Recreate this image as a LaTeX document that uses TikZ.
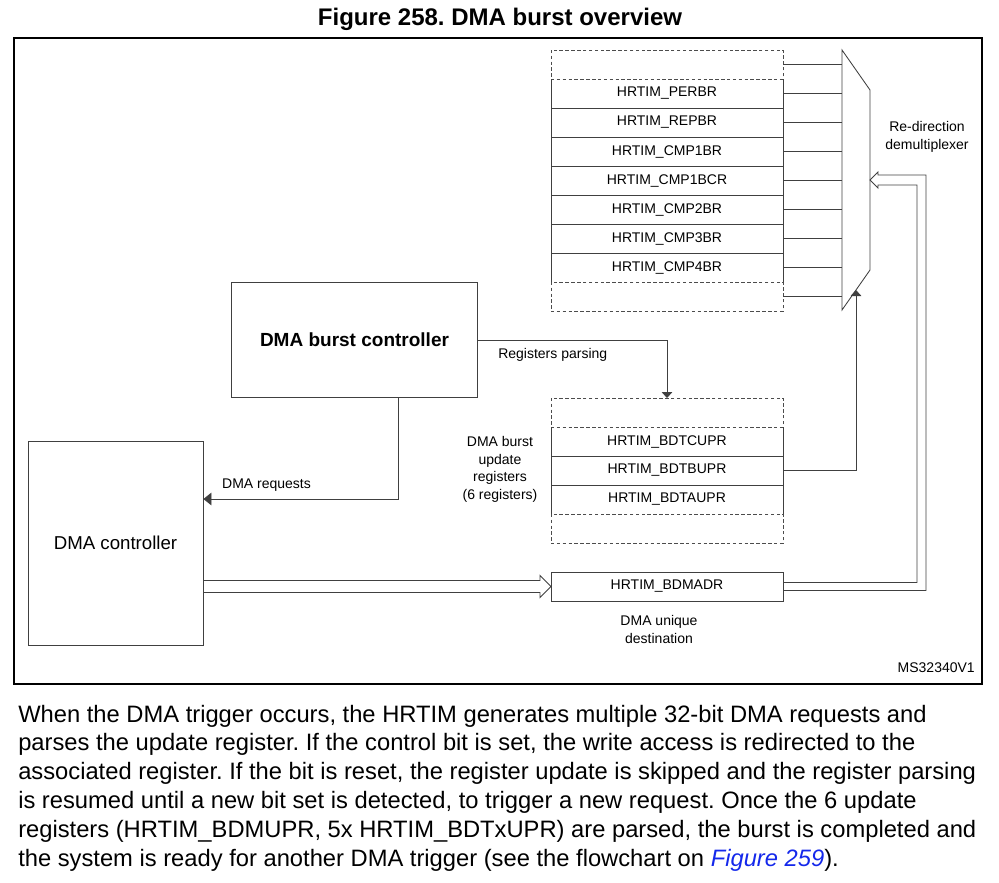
\documentclass[tikz,border=0pt]{standalone}
\usepackage{fontspec}
\setmainfont{Liberation Sans}
\usetikzlibrary{arrows.meta,calc,positioning}
\definecolor{linkblue}{RGB}{20,40,235}
\frenchspacing

\tikzset{
  conn/.style={draw=black!75, line width=0.65pt},
  regbox/.style={minimum width=174pt, minimum height=21.75pt, inner sep=0pt, outer sep=0pt,
    font=\fontsize{10.5}{12}\selectfont},
  dashbox/.style={regbox, draw=black!70, line width=0.6pt, dash pattern=on 2.6pt off 1.8pt},
  lbl/.style={font=\fontsize{10.5}{13.3}\selectfont, align=center, inner sep=0pt},
  ftip/.style={-{Triangle[length=4.5pt,width=8pt]}},
  dtip/.style={-{Triangle[length=6pt,width=9.5pt]}},
}

\begin{document}
\begin{tikzpicture}[x=0.75pt, y=-0.75pt]
  \useasboundingbox (0,0) rectangle (999,882);

  \node[font=\bfseries\fontsize{18}{21}\selectfont] (title) at (500,19) {Figure 258. DMA burst overview};
  \draw[line width=1.5pt] (14,38) rectangle (982,684);

  % main blocks
  \node[conn, minimum width=184.5pt, minimum height=86.25pt,
        font=\bfseries\fontsize{14.25}{17}\selectfont] (burst) at (354.5,340) {DMA burst controller};
  \node[conn, minimum width=131.25pt, minimum height=153pt,
        font=\fontsize{14}{17}\selectfont] (dmac) at (115.5,543) {DMA controller};

  % register stack
  \node[dashbox] (u0) at (667,64.5) {};
  \foreach \name [count=\i, evaluate=\i as \j using int(\i-1)] in {PERBR,REPBR,CMP1BR,CMP1BCR,CMP2BR,CMP3BR,CMP4BR}
    \node[regbox, below=0pt of u\j] (u\i) {HRTIM\_\name};
  \node[dashbox, below=0pt of u7] (u8) {};
  \draw[conn] (u1.north west) -- (u7.south west);
  \draw[conn] (u1.north east) -- (u7.south east);
  \foreach \i in {1,...,6}
    \draw[conn] (u\i.south west) -- (u\i.south east);

  % demultiplexer
  \coordinate (dtl) at (842,50);
  \coordinate (dtr) at (870,90);
  \coordinate (dbr) at (870,270);
  \coordinate (dbl) at (842,310);
  \coordinate (din) at (870,180);
  \coordinate (dsel) at ($(dbr)!0.5!(dbl)$);
  \draw[conn] (dtl) -- (dtr) -- (dbr) -- (dbl) -- cycle;
  \foreach \i in {0,...,8}
    \draw[conn] (u\i.east) -- (u\i.east -| dtl);
  \node[lbl] (demux) at (927,137) {Re-direction\\demultiplexer};

  % update registers
  \node[dashbox] (l0) at (667,412.5) {};
  \foreach \name [count=\i, evaluate=\i as \j using int(\i-1)] in {BDTCUPR,BDTBUPR,BDTAUPR}
    \node[regbox, below=0pt of l\j] (l\i) {HRTIM\_\name};
  \node[dashbox, below=0pt of l3] (l4) {};
  \draw[conn] (l1.north west) -- (l3.south west);
  \draw[conn] (l1.north east) -- (l3.south east);
  \foreach \i in {1,2}
    \draw[conn] (l\i.south west) -- (l\i.south east);
  \node[lbl] (updlbl) at (500,469.5) {DMA burst\\update\\registers\\(6 registers)};

  \node[regbox, conn] (bdmadr) at (667,586.5) {HRTIM\_BDMADR};
  \node[lbl] (destlbl) at (659,629.5) {DMA unique\\destination};

  % connectors
  \draw[conn, ftip] (burst.east) -| (l0.north);
  \node[lbl, anchor=west] (parslbl) at (498,355) {Registers parsing};

  \draw[conn, dtip] ([xshift=32.6pt]burst.south) |- ([yshift=33pt]dmac.east);
  \node[lbl] (reqlbl) at (266.5,485) {DMA requests};

  \draw[conn, ftip] (l2.east) -| (dsel);

  \draw[conn] ($(dmac.east |- bdmadr.west)+(0,-6)$) -- ($(bdmadr.west)+(-11,-6)$) -- ++(0,-5)
    -- (bdmadr.west) -- ($(bdmadr.west)+(-11,11)$) -- ++(0,-5) -- ($(dmac.east |- bdmadr.west)+(0,6)$);

  \draw[conn] ($(bdmadr.east)+(0,4)$) -| ($(din)+(56,-5)$) -- ($(din)+(8,-5)$) -- ++(0,-3)
    -- (din) -- ($(din)+(8,8)$) -- ++(0,-3) -- ($(din)+(47,5)$) |- ($(bdmadr.east)+(0,-4)$);

  \node[lbl, anchor=east] (ref) at (975,668) {MS32340V1};

  % text below
  \node[anchor=base west, align=left, inner sep=0pt, font=\fontsize{17.8}{21.6}\selectfont] (para) at (18,866)
    {When the DMA trigger occurs, the HRTIM generates multiple 32-bit DMA requests and\\
     parses the update register. If the control bit is set, the write access is redirected to the\\
     associated register. If the bit is reset, the register update is skipped and the register parsing\\
     is resumed until a new bit set is detected, to trigger a new request. Once the 6 update\\
     registers (HRTIM\_BDMUPR, 5x HRTIM\_BDTxUPR) are parsed, the burst is completed and\\
     the system is ready for another DMA trigger (see the flowchart on {\color{linkblue}\itshape Figure 259}).};
\end{tikzpicture}
\end{document}
